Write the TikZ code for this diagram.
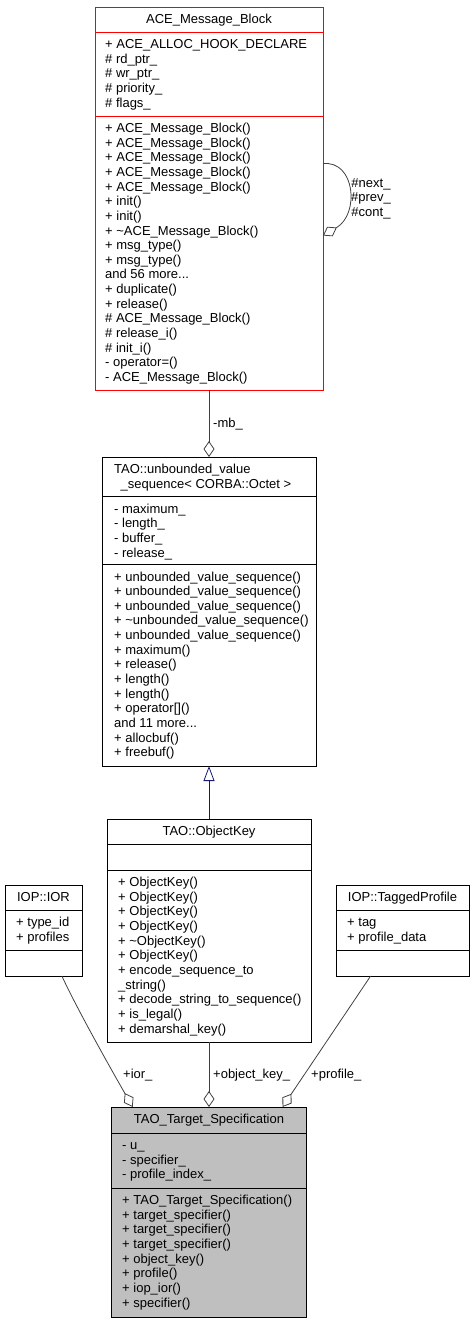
\documentclass[tikz,border=0pt]{standalone}
\usepackage{fontspec}
\setmainfont{Liberation Sans}
\usetikzlibrary{arrows.meta}
\definecolor{EdgeGray}{HTML}{404040}
\definecolor{BoxGray}{HTML}{BFBFBF}
\definecolor{InheritBlue}{HTML}{191970}

\begin{document}
\begin{tikzpicture}[x=1pt,y=-1pt]
\useasboundingbox (0,0) rectangle (475,1323);

\tikzset{ClassStyle/.style = {
 shape = rectangle,
 draw = black,
 line width = 1pt,
 inner sep = 0pt,
 outer sep = 0pt} }

% multi-line texts are placed by the baseline of their last line
\tikzset{TextStyle/.style = {
 inner sep = 0pt,
 align = left,
 anchor = base west,
 font = \fontsize{13}{14.65}\selectfont} }
\tikzset{TitleStyle/.style = {TextStyle, anchor = base, align = center} }

% class boxes
\node[ClassStyle, draw=red, minimum width=228pt, minimum height=383pt] (ACE) at (209,198.5) {};
\node[ClassStyle, minimum width=214pt, minimum height=309pt] (Seq) at (209,611.5) {};
\node[ClassStyle, minimum width=204pt, minimum height=223pt] (ObjKey) at (209,930.5) {};
\node[ClassStyle, minimum width=77pt, minimum height=91pt] (IOR) at (43.5,930.5) {};
\node[ClassStyle, minimum width=133pt, minimum height=91pt] (Profile) at (402.5,930.5) {};
\node[ClassStyle, fill=BoxGray, minimum width=195pt, minimum height=210pt] (Target) at (209,1212) {};

\draw[red, line width=1pt] (95,32) -- (323,32);
\draw[red, line width=1pt] (95,116) -- (323,116);
\draw[line width=1pt] (102,496) -- (316,496);
\draw[line width=1pt] (102,564) -- (316,564);
\draw[line width=1pt] (107,844) -- (311,844);
\draw[line width=1pt] (107,870) -- (311,870);
\draw[line width=1pt] (5,910) -- (82,910);
\draw[line width=1pt] (5,950) -- (82,950);
\draw[line width=1pt] (336,910) -- (469,910);
\draw[line width=1pt] (336,950) -- (469,950);
\draw[line width=1pt] (111.5,1133) -- (306.5,1133);
\draw[line width=1pt] (111.5,1188) -- (306.5,1188);

% ACE_Message_Block
\node[TitleStyle] (ACET) at (209,23) {ACE\_Message\_Block};
\node[TextStyle] (ACEA) at (105,107.1) {+ ACE\_ALLOC\_HOOK\_DECLARE\\\# rd\_ptr\_\\\# wr\_ptr\_\\\# priority\_\\\# flags\_};
\node[TextStyle] (ACEM) at (105,381.5) {+ ACE\_Message\_Block()\\+ ACE\_Message\_Block()\\+ ACE\_Message\_Block()\\+ ACE\_Message\_Block()\\+ ACE\_Message\_Block()\\+ init()\\+ init()\\+ \textasciitilde ACE\_Message\_Block()\\+ msg\_type()\\+ msg\_type()\\and 56 more...\\+ duplicate()\\+ release()\\\# ACE\_Message\_Block()\\\# release\_i()\\\# init\_i()\\- operator=()\\- ACE\_Message\_Block()};

% TAO::unbounded_value_sequence
\node[TextStyle] (SeqTA) at (114,473) {TAO::unbounded\_value};
\node[TitleStyle] (SeqTB) at (206,488) {\_sequence< CORBA::Octet >};
\node[TextStyle] (SeqA) at (114,557) {- maximum\_\\- length\_\\- buffer\_\\- release\_};
\node[TextStyle] (SeqM) at (114,756.8) {+ unbounded\_value\_sequence()\\+ unbounded\_value\_sequence()\\+ unbounded\_value\_sequence()\\+ \textasciitilde unbounded\_value\_sequence()\\+ unbounded\_value\_sequence()\\+ maximum()\\+ release()\\+ length()\\+ length()\\+ operator[]()\\and 11 more...\\+ allocbuf()\\+ freebuf()};

% TAO::ObjectKey
\node[TitleStyle] (ObjKeyT) at (209,835) {TAO::ObjectKey};
\node[TextStyle] (ObjKeyM) at (118,1033) {+ ObjectKey()\\+ ObjectKey()\\+ ObjectKey()\\+ ObjectKey()\\+ \textasciitilde ObjectKey()\\+ ObjectKey()\\+ encode\_sequence\_to\\\_string()\\+ decode\_string\_to\_sequence()\\+ is\_legal()\\+ demarshal\_key()};

% IOP::IOR
\node[TitleStyle] (IORT) at (43.5,901) {IOP::IOR};
\node[TextStyle] (IORA) at (16,941.2) {+ type\_id\\+ profiles};

% IOP::TaggedProfile
\node[TitleStyle] (ProfileT) at (402.5,901) {IOP::TaggedProfile};
\node[TextStyle] (ProfileA) at (347,941.2) {+ tag\\+ profile\_data};

% TAO_Target_Specification
\node[TitleStyle] (TargetT) at (209,1123) {TAO\_Target\_Specification};
\node[TextStyle] (TargetA) at (122,1178.8) {- u\_\\- specifier\_\\- profile\_index\_};
\node[TextStyle] (TargetM) at (122,1307) {+ TAO\_Target\_Specification()\\+ target\_specifier()\\+ target\_specifier()\\+ target\_specifier()\\+ object\_key()\\+ profile()\\+ iop\_ior()\\+ specifier()};

\tikzset{AggregationStyle/.style = {EdgeGray, line width=0.8pt,
 -{Diamond[open, length=16pt, width=11pt, line width=0.8pt]}} }
\tikzset{InheritStyle/.style = {InheritBlue, line width=0.8pt,
 -{Triangle[open, length=15pt, width=11pt, line width=0.8pt]}} }

\draw[AggregationStyle] (ACE.17) .. controls (355,160) and (360,214) .. (ACE.-18);
\draw[AggregationStyle] (ACE.south) -- (Seq.north);
\draw[InheritStyle] (ObjKey.north) -- (Seq.south);
\draw[AggregationStyle] (IOR.-68) .. controls (78,1011) and (115.5,1077) .. (Target.126);
\draw[AggregationStyle] (ObjKey.south) -- (Target.north);
\draw[AggregationStyle] (Profile.-125) -- (Target.55);

\node[TitleStyle] (LoopL) at (371,216.3) {\#next\_\\\#prev\_\\\#cont\_};
\node[TextStyle] (MbL) at (213,427) {-mb\_};
\node[TextStyle] (IorL) at (123,1078) {+ior\_};
\node[TextStyle] (ObjKeyL) at (213,1078) {+object\_key\_};
\node[TextStyle] (ProfileL) at (311,1078) {+profile\_};

\end{tikzpicture}
\end{document}
